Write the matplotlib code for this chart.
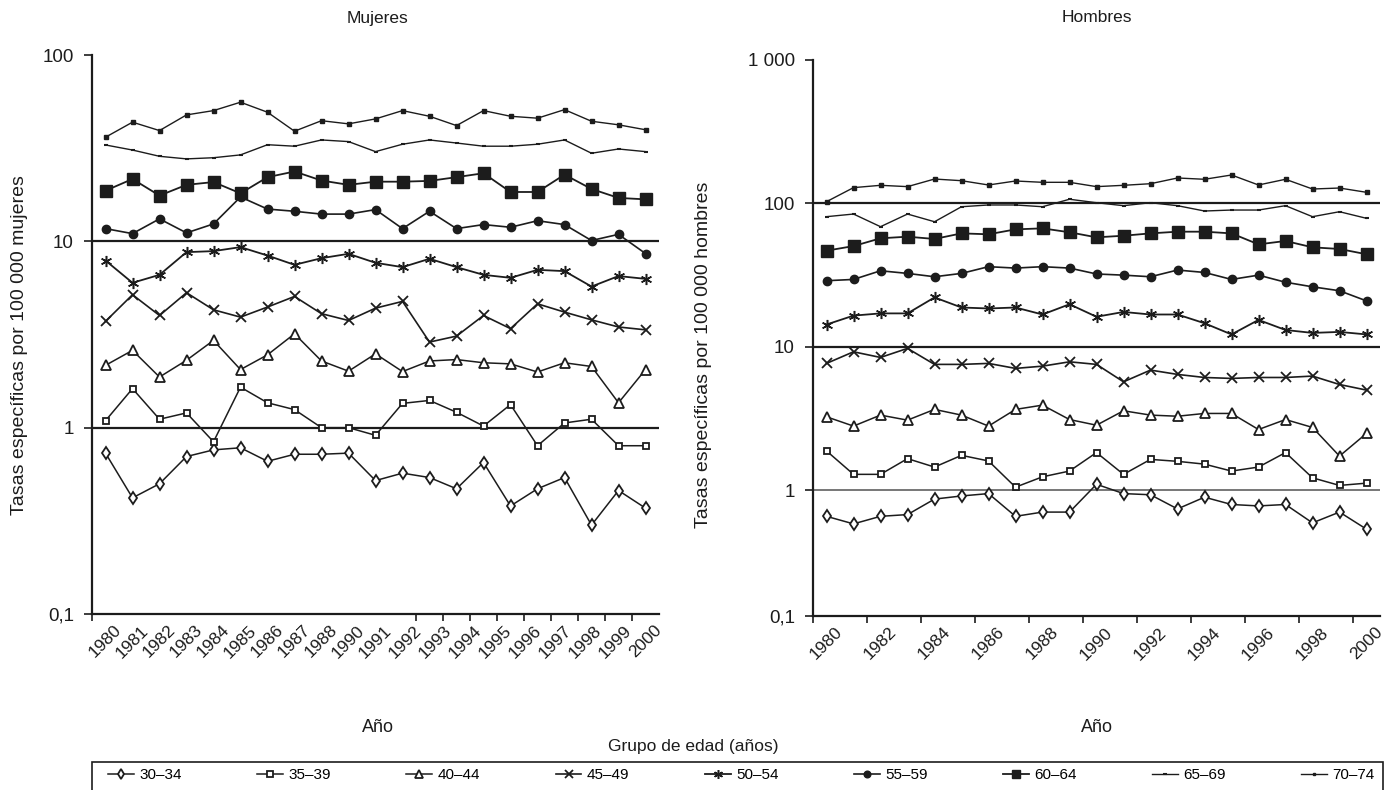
import numpy as np
import matplotlib
matplotlib.use('Agg')
from matplotlib import pyplot as plt
from matplotlib.patches import Rectangle
from matplotlib.ticker import NullLocator

plt.rcParams['font.family'] = ['Liberation Sans', 'DejaVu Sans']

grupos = ['30–34', '35–39', '40–44', '45–49', '50–54', '55–59', '60–64', '65–69', '70–74']

# tasas por 100 000, 1980-2000 (21 valores por grupo)
mujeres = {
    '30–34': [0.73, 0.42, 0.50, 0.70, 0.76, 0.78, 0.66, 0.72, 0.72, 0.73, 0.52, 0.57,
              0.54, 0.47, 0.65, 0.38, 0.47, 0.54, 0.30, 0.46, 0.37],
    '35–39': [1.09, 1.62, 1.11, 1.20, 0.84, 1.65, 1.36, 1.25, 1.00, 1.00, 0.91, 1.35,
              1.40, 1.21, 1.02, 1.33, 0.80, 1.06, 1.11, 0.80, 0.80],
    '40–44': [2.16, 2.60, 1.87, 2.30, 2.94, 2.05, 2.46, 3.19, 2.28, 2.01, 2.49, 2.00,
              2.28, 2.32, 2.23, 2.20, 1.99, 2.23, 2.13, 1.36, 2.05],
    '45–49': [3.72, 5.17, 4.00, 5.30, 4.29, 3.92, 4.44, 5.06, 4.09, 3.76, 4.38, 4.76,
              2.88, 3.10, 4.00, 3.40, 4.62, 4.17, 3.79, 3.47, 3.35],
    '50–54': [7.89, 5.99, 6.61, 8.75, 8.86, 9.31, 8.39, 7.48, 8.12, 8.57, 7.67, 7.27,
              8.06, 7.27, 6.61, 6.37, 7.03, 6.92, 5.72, 6.51, 6.29],
    '55–59': [11.7, 11.0, 13.2, 11.1, 12.4, 17.3, 14.9, 14.5, 14.0, 14.0, 14.8, 11.7,
              14.5, 11.7, 12.3, 11.9, 12.9, 12.3, 10.1, 10.9, 8.6],
    '60–64': [18.7, 21.6, 17.6, 20.1, 20.8, 18.1, 22.1, 23.7, 21.2, 20.1, 20.9, 20.9,
              21.1, 22.1, 23.2, 18.4, 18.4, 22.8, 19.1, 17.1, 16.8],
    '65–69': [32.9, 30.9, 28.6, 27.7, 28.1, 29.1, 33.0, 32.4, 35.0, 34.3, 30.3, 33.2,
              35.0, 33.7, 32.4, 32.4, 33.2, 35.0, 29.7, 31.3, 30.3],
    '70–74': [36.2, 43.6, 39.3, 47.7, 50.3, 55.8, 49.3, 39.0, 44.4, 42.7, 45.4, 50.3,
              46.9, 41.8, 50.3, 46.9, 45.8, 50.9, 44.1, 42.2, 39.7],
}

hombres = {
    '30–34': [0.62, 0.54, 0.62, 0.64, 0.85, 0.90, 0.94, 0.62, 0.67, 0.67, 1.10, 0.94,
              0.92, 0.71, 0.88, 0.77, 0.75, 0.77, 0.55, 0.67, 0.49],
    '35–39': [1.88, 1.29, 1.29, 1.66, 1.45, 1.75, 1.60, 1.05, 1.24, 1.36, 1.83, 1.29,
              1.64, 1.59, 1.52, 1.36, 1.45, 1.83, 1.22, 1.08, 1.12],
    '40–44': [3.25, 2.80, 3.34, 3.08, 3.66, 3.34, 2.80, 3.66, 3.92, 3.11, 2.84, 3.58,
              3.34, 3.28, 3.43, 3.43, 2.65, 3.11, 2.74, 1.73, 2.49],
    '45–49': [7.66, 9.23, 8.43, 9.75, 7.54, 7.54, 7.66, 7.07, 7.33, 7.86, 7.54, 5.70,
              6.88, 6.42, 6.11, 6.02, 6.11, 6.11, 6.25, 5.46, 4.99],
    '50–54': [14.3, 16.5, 17.1, 17.1, 22.1, 18.8, 18.5, 18.8, 16.8, 19.8, 16.2, 17.5,
              16.8, 16.8, 14.6, 12.2, 15.4, 13.1, 12.5, 12.7, 12.2],
    '55–59': [28.9, 29.5, 33.9, 32.5, 30.8, 32.5, 36.2, 35.4, 36.2, 35.4, 32.2, 31.6,
              30.8, 34.3, 33.0, 29.5, 31.6, 28.2, 26.2, 24.6, 20.9],
    '60–64': [46.8, 50.4, 57.1, 58.6, 56.5, 61.8, 60.9, 65.9, 67.0, 62.9, 58.0, 59.5,
              61.8, 63.5, 63.5, 61.8, 51.8, 54.7, 49.4, 48.1, 44.2],
    '65–69': [80.8, 84.3, 68.8, 84.3, 74.5, 94.8, 97.5, 97.5, 94.8, 106.9, 101.1, 96.4,
              101.1, 96.4, 88.5, 89.9, 89.9, 96.4, 80.8, 87.5, 78.7],
    '70–74': [102.8, 128.8, 133.7, 130.9, 147.9, 144.0, 134.4, 143.3, 140.3, 140.3, 130.9,
              133.7, 137.2, 150.4, 147.3, 157.8, 134.4, 147.3, 126.0, 128.0, 119.5],
}

etiquetas_muj = ['1980', '1981', '1982', '1983', '1984', '1985', '1986', '1987', '1988',
                 '1990', '1991', '1992', '1993', '1994', '1995', '1996', '1997', '1998',
                 '1999', '2000']
etiquetas_hom = ['1980', '1982', '1984', '1986', '1988', '1990', '1992', '1994', '1996',
                 '1998', '2000']

INK = '#1c1c1c'
estilos = {
    '30–34': dict(marker='d', ms=6.5, mfc='white', mew=1.3, lw=1.1),
    '35–39': dict(marker='s', ms=5, mfc='white', mew=1.3, lw=1.1),
    '40–44': dict(marker='^', ms=6.5, mfc='white', mew=1.3, lw=1.1),
    '45–49': dict(marker='x', ms=7, mew=1.3, lw=1.2),
    '50–54': dict(marker=(6, 2, 0), ms=8, mew=1.1, lw=1.3),
    '55–59': dict(marker='o', ms=6, lw=1.2),
    '60–64': dict(marker='s', ms=8, lw=1.3),
    '65–69': dict(marker='_', ms=3, mew=1.5, lw=1.0),
    '70–74': dict(marker='s', ms=2.5, lw=1.0),
}

W, H = 1387, 790
fig = plt.figure(figsize=(W / 100, H / 100), dpi=100)


def box(x0, y0, x1, y1):
    return [x0 / W, 1 - y1 / H, (x1 - x0) / W, (y1 - y0) / H]


ax1 = fig.add_axes(box(92, 55, 659, 614))
ax2 = fig.add_axes(box(813, 60, 1380, 616))

# el eje de hombres tiene la decada 0,1-1 algo mas corta
K = 125.7 / 143.3


def fwd(v):
    lv = np.log10(np.clip(np.asarray(v, dtype=float), 1e-9, None))
    return np.where(lv < 0, lv * K, lv)


def inv(u):
    u = np.asarray(u, dtype=float)
    return np.where(u < 0, 10 ** (u / K), 10 ** u)


x = np.arange(21)

for ax, datos in ((ax1, mujeres), (ax2, hombres)):
    for g in grupos:
        ax.plot(x, datos[g], color=INK, mec=INK, label=g, **estilos[g], zorder=3)
    ax.set_xlim(-0.5, 20.5)
    for s in ('top', 'right'):
        ax.spines[s].set_visible(False)
    for s in ('left', 'bottom'):
        ax.spines[s].set_linewidth(1.6)
        ax.spines[s].set_color(INK)
    ax.set_xticks(np.arange(-0.5, 21, 1), minor=True)
    ax.tick_params(axis='x', which='minor', length=5, width=1.2, color=INK, direction='out')
    ax.tick_params(axis='x', which='major', length=0, pad=10, labelsize=12.5, colors=INK)
    ax.tick_params(axis='y', which='major', length=6, width=1.2, color=INK,
                   labelsize=13.5, pad=7, labelcolor=INK)

ax1.set_yscale('log')
ax1.set_ylim(0.1, 100)
ax1.yaxis.set_minor_locator(NullLocator())
ax1.set_yticks([0.1, 1, 10, 100], ['0,1', '1', '10', '100'])
for v in (1, 10):
    ax1.axhline(v, color=INK, lw=1.6, zorder=1)

ax2.set_yscale('function', functions=(fwd, inv))
ax2.set_ylim(0.1, 1000)
ax2.yaxis.set_minor_locator(NullLocator())
ax2.set_yticks([0.1, 1, 10, 100, 1000], ['0,1', '1', '10', '100', '1 000'])
ax2.axhline(1, color='#777777', lw=1.4, zorder=1)
for v in (10, 100):
    ax2.axhline(v, color=INK, lw=1.6, zorder=1)

pos_muj = list(np.arange(0.5, 10, 1)) + list(np.linspace(10.5, 20.5, 10))
ax1.set_xticks(pos_muj, etiquetas_muj, rotation=45, ha='right', va='center',
               rotation_mode='anchor')
ax2.set_xticks(np.arange(0.5, 21, 2), etiquetas_hom, rotation=45, ha='right',
               va='center', rotation_mode='anchor')

fig.text(378 / W, 1 - 18 / H, 'Mujeres', ha='center', va='center', fontsize=12.5,
         color=INK)
fig.text(1097 / W, 1 - 18 / H, 'Hombres', ha='center', va='center', fontsize=12.5,
         color=INK)
fig.text(378 / W, 1 - 727 / H, 'Año', ha='center', va='center', fontsize=13,
         color=INK)
fig.text(1097 / W, 1 - 727 / H, 'Año', ha='center', va='center', fontsize=13,
         color=INK)
fig.text(20 / W, 1 - 345 / H, 'Tasas específicas por 100 000 mujeres', rotation=90,
         ha='center', va='center', fontsize=14, color=INK)
fig.text(703 / W, 1 - 355 / H, 'Tasas específicas por 100 000 hombres', rotation=90,
         ha='center', va='center', fontsize=14, color=INK)
fig.text(693 / W, 1 - 747 / H, 'Grupo de edad (años)', ha='center', va='center',
         fontsize=12.5, color=INK)

fig.patches.append(Rectangle((92 / W, -0.05), (1383 - 92) / W, 0.05 + (790 - 762) / H,
                             transform=fig.transFigure, fill=False, ec=INK, lw=1.2))

# columnas de la leyenda cada ~149 px, empezando en x=108
handles, labels = ax1.get_legend_handles_labels()
fig.legend(handles, labels, ncol=9, loc='center left', frameon=False,
           bbox_to_anchor=(102 / W, 1 - 775 / H), borderaxespad=0,
           handlelength=1.7, handletextpad=0.35, columnspacing=4.93, markerscale=0.8,
           prop={'size': 11})

fig.savefig('out.png', dpi=100)
